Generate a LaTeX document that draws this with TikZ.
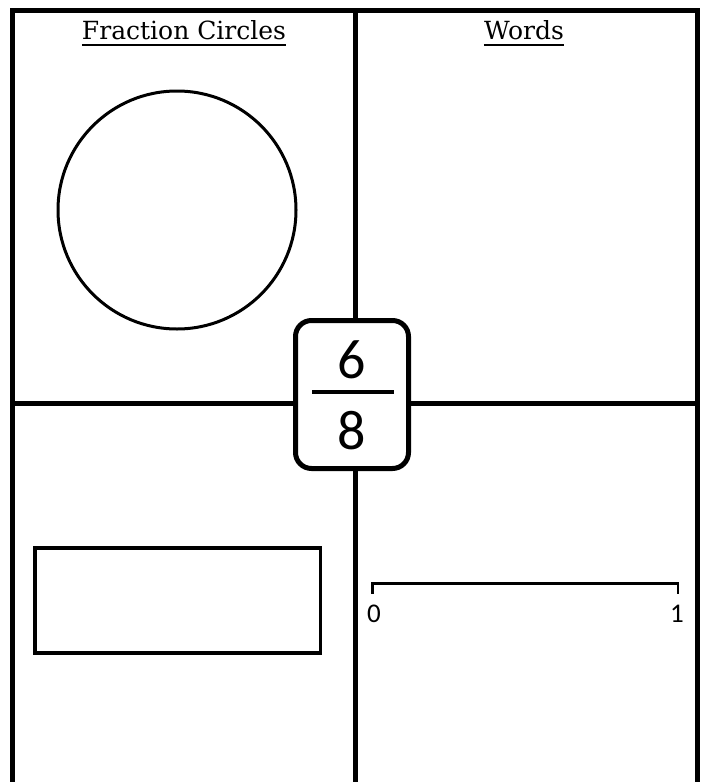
\documentclass[tikz,border=0pt]{standalone}
\usepackage{fontspec}
\setmainfont{DejaVu Serif}
\newfontfamily\calfont{Carlito}
\begin{document}
\begin{tikzpicture}[x=1pt,y=-1pt,
  frame/.style={line width=5pt},
  title/.style={inner sep=0pt,anchor=base,font=\fontsize{25}{29}\selectfont},
  digit/.style={inner sep=0pt,anchor=base,font=\calfont\fontsize{56}{60}\selectfont},
  small/.style={inner sep=0pt,anchor=base,font=\calfont\fontsize{27}{30}\selectfont}]
\useasboundingbox (0,0) rectangle (703,782);
% frame
\draw[frame] (12.5,782) -- (12.5,10.5) -- (697.5,10.5) -- (697.5,782);
\draw[frame] (355,10.5) -- (355,782);
\draw[frame] (12.5,403) -- (697.5,403);
% titles
\node[title] (t1) at (184,39) {Fraction Circles};
\draw[line width=2pt] ([yshift=-6pt]t1.base west) -- ([yshift=-6pt]t1.base east);
\node[title] (t2) at (524,39) {Words};
\draw[line width=2pt] ([yshift=-6pt]t2.base west) -- ([yshift=-6pt]t2.base east);
% circle
\draw[line width=3pt] (177,210) circle (119);
% rectangle
\draw[line width=3.8pt] (35,548) rectangle (320.5,653);
% number line
\coordinate (n0) at (372.5,583.5);
\coordinate (n1) at (678,583.5);
\draw[line width=2.5pt] ([yshift=-10pt]n0) -- (n0) -- (n1) -- ([yshift=-10pt]n1);
\node[small] (z) at (374,622) {0};
\node[small] (o) at (677,622) {1};
% center fraction box
\node[draw,fill=white,line width=5pt,rounded corners=16pt,minimum width=113pt,minimum height=148pt] (fb) at (352,394.5) {};
\node[digit] (six) at (352,378) {6};
\node[digit] (eight) at (352,449) {8};
\draw[line width=4pt] (312,392) -- (394,392);
\end{tikzpicture}
\end{document}
